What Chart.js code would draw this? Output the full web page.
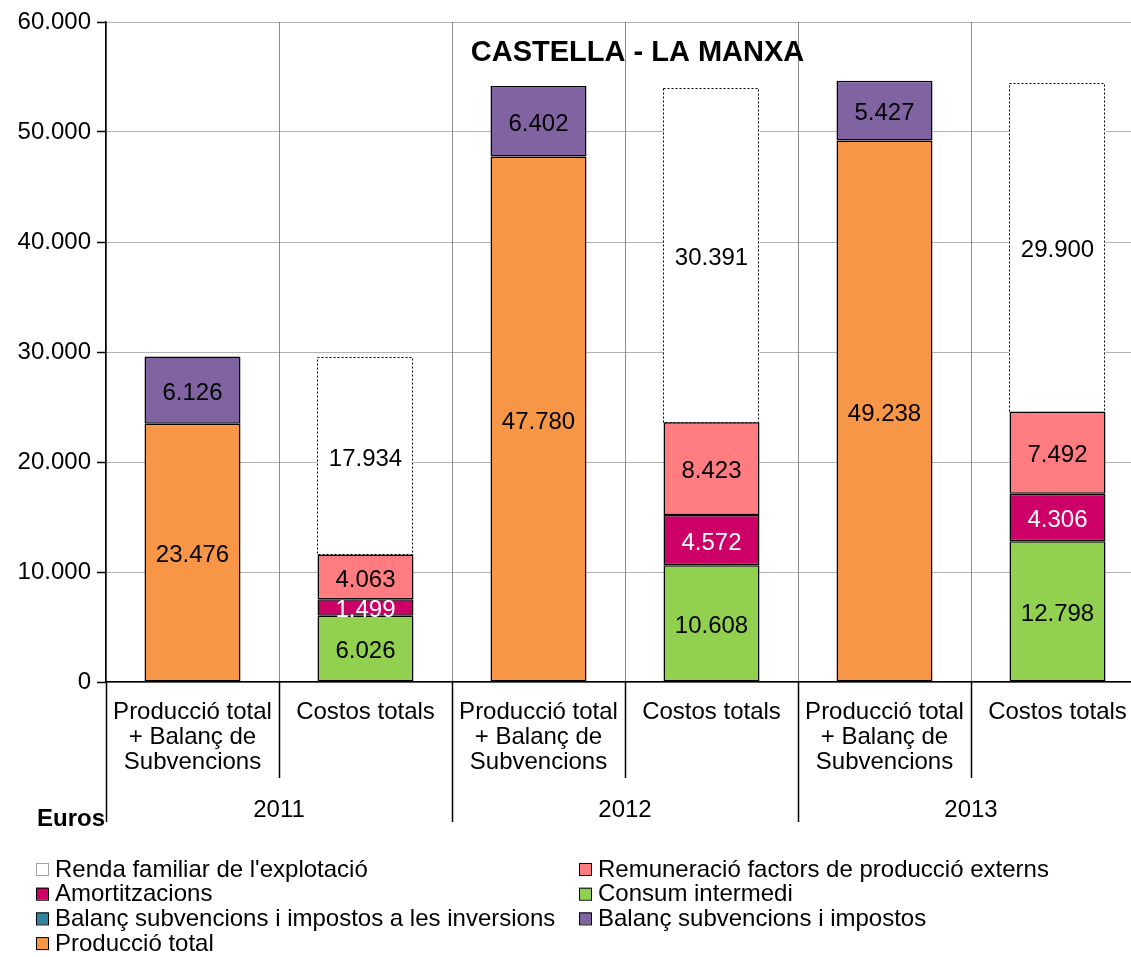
<!DOCTYPE html>
<html>
<head>
<meta charset="utf-8">
<script src="https://cdn.jsdelivr.net/npm/chart.js@4/dist/chart.umd.min.js"></script>
<style>
  html, body { margin: 0; padding: 0; background: #fff; overflow: hidden; }
  #wrap { width: 1150px; height: 957px; position: relative; }
</style>
</head>
<body>
<div id="wrap"><canvas id="c"></canvas></div>
<script>
// categories
const categories = [
    ['Producció total', '+ Balanç de', 'Subvencions'], 'Costos totals',
    ['Producció total', '+ Balanç de', 'Subvencions'], 'Costos totals',
    ['Producció total', '+ Balanç de', 'Subvencions'], 'Costos totals'
];
const years = ['2011', '2012', '2013'];
const yTicks = [0, 10000, 20000, 30000, 40000, 50000, 60000];

// series (euros)
const produccioTotal   = [23476, null, 47780, null, 49238, null];
const balancImpostos   = [6126, null, 6402, null, 5427, null];
const balancInversions = [-80, null, -188, null, -169, null];
const consumIntermedi  = [null, 6026, null, 10608, null, 12798];
const amortitzacions   = [null, 1499, null, 4572, null, 4306];
const remuneracio      = [null, 4063, null, 8423, null, 7492];
const rendaFamiliar    = [null, 17934, null, 30391, null, 29900];

const FONT = 'Arial, "Liberation Sans", sans-serif';

function fmt(v) {
    return String(Math.round(v)).replace(/\B(?=(\d{3})+(?!\d))/g, '.');
}

function ds(label, data, color, labelColor, showLabel) {
    return {
        label: label, data: data,
        backgroundColor: color,
        borderColor: '#000', borderWidth: 1.5, borderSkipped: false,
        categoryPercentage: 1, barPercentage: 0.555,
        labelColor: labelColor, showLabel: showLabel
    };
}

const datasets = [
    ds('Producció total', produccioTotal, '#F79646', '#000', true),
    ds('Balanç subvencions i impostos', balancImpostos, '#8064A2', '#000', true),
    ds('Balanç subvencions i impostos a les inversions', balancInversions, '#31859C', '#000', false),
    ds('Consum intermedi', consumIntermedi, '#92D050', '#000', true),
    ds('Amortitzacions', amortitzacions, '#CC0066', '#fff', true),
    ds('Remuneració factors de producció externs', remuneracio, '#FF7C80', '#000', true),
    ds("Renda familiar de l'explotació", rendaFamiliar, '#FFFFFF', '#000', true)
];
datasets[6].borderWidth = 0;
datasets[6].dotted = true;

// labels, dotted borders, separators, years, legend
const extras = {
    id: 'extras',
    afterDatasetsDraw(chart) {
        const ctx = chart.ctx;
        ctx.save();
        chart.data.datasets.forEach((d, i) => {
            const meta = chart.getDatasetMeta(i);
            meta.data.forEach((el, j) => {
                if (d.data[j] == null) return;
                const p = el.getProps(['x', 'y', 'base', 'width'], true);
                if (d.dotted) {
                    ctx.setLineDash([2, 2]);
                    ctx.strokeStyle = '#000';
                    ctx.lineWidth = 1;
                    ctx.strokeRect(Math.round(p.x - p.width / 2) + 0.5, Math.round(p.y) + 0.5,
                        Math.round(p.width) - 1, Math.round(p.base - p.y));
                    ctx.setLineDash([]);
                }
                if (!d.showLabel) return;
                ctx.fillStyle = d.labelColor;
                ctx.font = '24px ' + FONT;
                ctx.textAlign = 'center';
                ctx.textBaseline = 'middle';
                ctx.fillText(fmt(d.data[j]), p.x, (p.y + p.base) / 2 + 3);
            });
        });
        ctx.restore();
    },
    afterDraw(chart) {
        const ctx = chart.ctx;
        const x = chart.scales.x, area = chart.chartArea;
        const half = (x.getPixelForValue(1) - x.getPixelForValue(0)) / 2;
        ctx.save();
        // title
        ctx.fillStyle = '#000';
        ctx.font = 'bold 29px ' + FONT;
        ctx.textAlign = 'center';
        ctx.textBaseline = 'middle';
        ctx.fillText('CASTELLA - LA MANXA', x.getPixelForValue(3) - 74, 53);
        // separators below the axis
        ctx.strokeStyle = '#000';
        ctx.lineWidth = 1.5;
        for (let i = 0; i <= categories.length; i++) {
            const px = Math.round(x.getPixelForValue(i) - half) + 0.5;
            const yEnd = (i % 2 === 0) ? 822 : 778;
            ctx.beginPath();
            ctx.moveTo(px, area.bottom);
            ctx.lineTo(px, yEnd);
            ctx.stroke();
        }
        // years
        ctx.font = '24px ' + FONT;
        years.forEach((y, k) => {
            const cx = (x.getPixelForValue(2 * k) + x.getPixelForValue(2 * k + 1)) / 2;
            ctx.fillText(y, cx, 810);
        });
        // axis unit
        ctx.font = 'bold 24px ' + FONT;
        ctx.textAlign = 'right';
        ctx.fillText('Euros', 105, 819);
        // legend (reversed, two columns)
        const items = chart.data.datasets.slice().reverse();
        ctx.font = '24px ' + FONT;
        ctx.textAlign = 'left';
        items.forEach((d, k) => {
            const col = k % 2, row = Math.floor(k / 2);
            const bx = col === 0 ? 36 : 579;
            const cy = 869 + row * 24.7;
            ctx.fillStyle = d.backgroundColor;
            ctx.fillRect(bx, cy - 6, 12, 12);
            ctx.lineWidth = 1;
            ctx.strokeStyle = d.dotted ? '#444' : '#000';
            ctx.setLineDash(d.dotted ? [1, 1] : []);
            ctx.strokeRect(bx + 0.5, cy - 5.5, 12, 12);
            ctx.setLineDash([]);
            ctx.fillStyle = '#000';
            ctx.fillText(d.label, bx + 19, cy + 1);
        });
        ctx.restore();
    }
};

new Chart(document.getElementById('c'), {
    type: 'bar',
    data: { labels: categories, datasets: datasets },
    options: {
        responsive: true,
        maintainAspectRatio: false,
        animation: false,
        layout: { padding: { top: 22, right: 6, left: 0, bottom: 0 } },
        plugins: { legend: { display: false }, tooltip: { enabled: false } },
        scales: {
            x: {
                stacked: true,
                grid: { offset: true, color: '#8c8c8c', lineWidth: 1, drawTicks: false },
                border: { color: '#000', width: 1.5 },
                ticks: {
                    autoSkip: false, maxRotation: 0, padding: 18, color: '#000',
                    font: { family: FONT, size: 24, lineHeight: 1.04 }
                },
                afterFit: s => { s.height = 275; }
            },
            y: {
                stacked: true,
                min: 0, max: 60000,
                afterBuildTicks: s => { s.ticks = yTicks.map(v => ({ value: v })); },
                grid: { color: '#666', lineWidth: 1, tickLength: 9, tickColor: '#000', tickBorderDash: [], tickWidth: 1.5 },
                border: { color: '#000', width: 1.5, dash: [1, 1] },
                ticks: {
                    padding: 6, color: '#000',
                    font: { family: FONT, size: 24 },
                    callback: v => fmt(v)
                },
                afterFit: s => { s.width = 106; }
            }
        }
    },
    plugins: [extras]
});
</script>
</body>
</html>
